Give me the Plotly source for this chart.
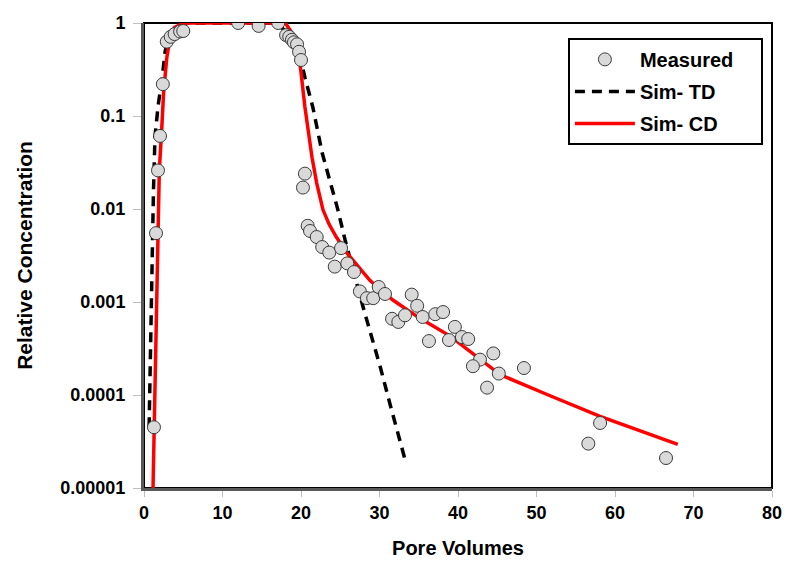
import plotly.graph_objects as go

# Measured data
meas_x = [1.27, 1.53, 1.78, 2.04, 2.4, 2.9, 3.4, 3.9, 4.6, 5.0,
          12.0, 14.6, 17.1,
          18.1, 18.5, 18.85, 19.1, 19.5, 19.75, 20.0,
          20.25, 20.5, 20.85, 21.15, 22.0, 22.7, 23.6, 25.1, 24.3, 25.9, 26.75,
          27.5, 28.4, 29.2, 29.9, 30.7, 34.1, 34.8, 31.6, 32.4, 33.25, 35.5,
          37.1, 38.1, 36.3, 38.85, 39.6, 40.5, 41.3, 42.8, 41.9, 44.5, 45.2,
          43.7, 48.4, 56.6, 58.1, 66.5]
meas_y = [4.5e-5, 0.0055, 0.026, 0.061, 0.22, 0.63, 0.71, 0.76, 0.81, 0.82,
          1.0, 0.93, 1.0,
          0.74, 0.71, 0.66, 0.62, 0.59, 0.49, 0.40,
          0.017, 0.024, 0.0066, 0.0058, 0.0050, 0.0039, 0.0034, 0.0038, 0.0024, 0.0026, 0.0021,
          0.0013, 0.0011, 0.0011, 0.00145, 0.00122, 0.0012, 0.00091, 0.00066, 0.00061, 0.00072, 0.00069,
          0.00074, 0.00078, 0.00038, 0.00039, 0.00054, 0.00042, 0.0004, 0.00024, 0.000204, 0.00028, 0.00017,
          0.00012, 0.000195, 3.0e-5, 5.0e-5, 2.1e-5]

# Simulated - TD (dashed)
td_x = [0.65, 0.8, 1.0, 1.2, 1.4, 1.8, 2.3, 2.7, 3.3, 4.5, 6.0, 17.0,
        18.2, 19.9, 20.5, 21.5, 22.7, 23.7, 24.7, 25.6, 26.9, 27.9, 29.0, 30.1, 31.3, 33.2]
td_y = [4.5e-5, 3e-4, 2e-3, 0.015, 0.06, 0.13, 0.25, 0.5, 0.8, 0.97, 1.0, 1.0,
        0.78, 0.43, 0.26, 0.125, 0.04, 0.020, 0.0098, 0.0047, 0.0018, 0.00089, 0.00042, 0.0002, 8.2e-5, 2.1e-5]

# Simulated - CD (solid red)
cd_x = [1.15, 1.4, 1.65, 1.85, 1.95, 2.25, 2.5, 2.9, 3.3, 3.9, 5.0, 6.0, 18.0,
        19.2, 19.9, 20.5, 21.4, 22.0, 22.8, 23.6, 24.5, 25.8, 27.1, 28.8, 31.7, 35.0, 39.0, 45.4, 51.5, 58.1, 68.0]
cd_y = [1e-5, 1e-4, 1e-3, 0.006, 0.026, 0.07, 0.18, 0.42, 0.68, 0.9, 0.99, 1.0, 1.0,
        0.71, 0.35, 0.125, 0.036, 0.019, 0.0098, 0.0068, 0.005, 0.0034, 0.0025, 0.0017, 0.00105, 0.00068, 0.00043, 0.000165, 1.0e-4, 5.9e-5, 2.95e-5]

x_ticks = [0, 10, 20, 30, 40, 50, 60, 70, 80]
y_ticks = [1e-5, 1e-4, 1e-3, 1e-2, 1e-1, 1]
y_tick_labels = ["0.00001", "0.0001", "0.001", "0.01", "0.1", "1"]

FONT = "Liberation Sans, Arial, sans-serif"
PAD = "\u00a0" * 4

fig = go.Figure()
fig.add_trace(go.Scatter(
    x=td_x, y=td_y, mode="lines", name="<b>Sim- TD</b>", legendgroup="b", legendrank=2,
    line=dict(color="black", width=3.5, dash="10px,7px")))
fig.add_trace(go.Scatter(
    x=cd_x, y=cd_y, mode="lines", name="<b>Sim- CD</b>", legendgroup="c", legendrank=3,
    line=dict(color="#ff0000", width=3.5)))
fig.add_trace(go.Scatter(
    x=meas_x, y=meas_y, mode="markers", name="<b>Measured</b>" + PAD, legendgroup="a", legendrank=1,
    marker=dict(size=13, color="#d9d9d9", line=dict(color="#3a3a3a", width=1))))

fig.update_layout(
    width=800, height=574,
    margin=dict(l=136, r=36, t=15, b=94, autoexpand=False),
    paper_bgcolor="white", plot_bgcolor="white",
    font=dict(family=FONT, size=18, color="black"),
    showlegend=True,
    legend=dict(x=0.675, y=0.968, xanchor="left", yanchor="top",
                bordercolor="black", borderwidth=2, bgcolor="white",
                font=dict(size=20, family=FONT), tracegroupgap=3,
                itemwidth=60),
    xaxis=dict(range=[0, 80], tickvals=x_ticks, automargin=False,
               ticktext=[f"<b>{v}</b>" for v in x_ticks],
               showgrid=False, zeroline=False,
               showline=True, linecolor="#595959", linewidth=3,
               ticks="outside", ticklen=6, tickcolor="#bfbfbf",
               title=dict(text="<b>Pore Volumes</b>", font=dict(size=20), standoff=20)),
    yaxis=dict(type="log", range=[-5, 0], tickvals=y_ticks, automargin=False,
               ticktext=[f"<b>{t}</b>" for t in y_tick_labels],
               showgrid=False, zeroline=False,
               showline=True, linecolor="#595959", linewidth=3,
               ticks="outside", ticklen=8, tickcolor="#bfbfbf",
               ticklabelstandoff=4,
               title=dict(text="<b>Relative Concentration</b>", font=dict(size=21), standoff=22)),
    shapes=[
        dict(type="rect", xref="paper", yref="paper", x0=0, x1=1, y0=0, y1=1,
             line=dict(color="black", width=2), layer="below"),
    ],
)

fig.write_html("out.html")
